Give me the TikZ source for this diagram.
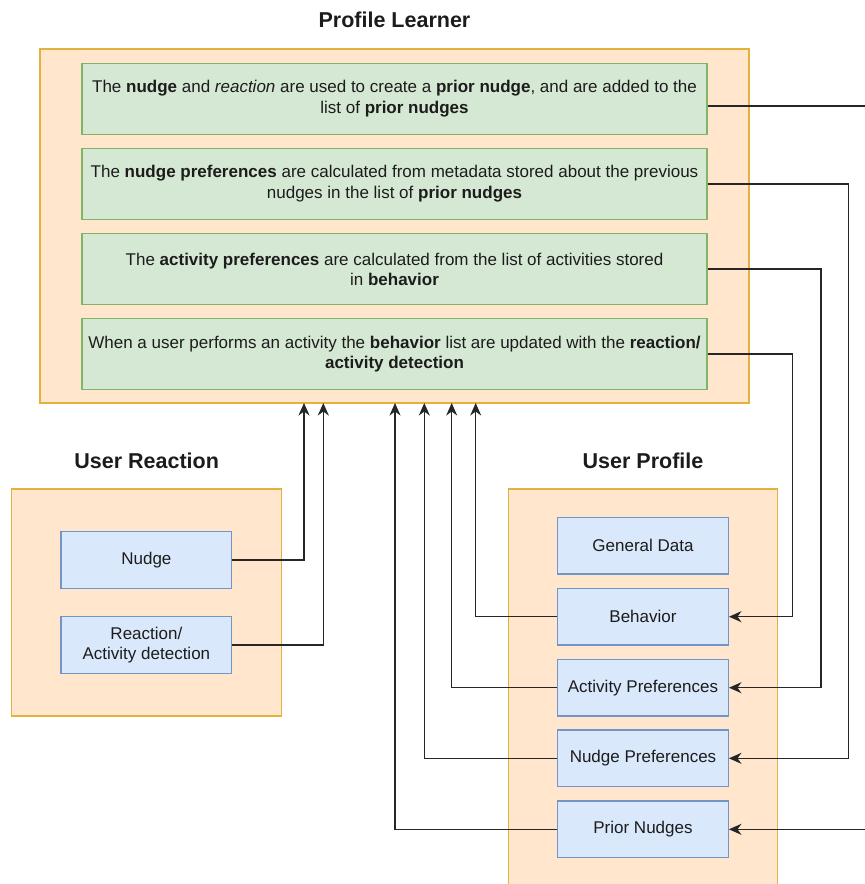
\documentclass[tikz,border=0pt]{standalone}
\usepackage{fontspec}
\setmainfont{Liberation Sans}
\usetikzlibrary{arrows.meta,calc}

\definecolor{grpfill}{HTML}{FFE6CC}
\definecolor{grpline}{HTML}{E3B23C}
\definecolor{stepfill}{HTML}{D5E8D4}
\definecolor{stepline}{HTML}{82B366}
\definecolor{itemfill}{HTML}{DAE8FC}
\definecolor{itemline}{HTML}{7394C6}
\definecolor{txt}{HTML}{1C1C1C}
\definecolor{wire}{HTML}{262626}

\tikzset{
  group/.style={draw=grpline, fill=grpfill, line width=1.5pt},
  grouptitle/.style={font=\fontsize{21.5}{25}\selectfont\bfseries, text=txt},
  stepbox/.style={draw=stepline, fill=stepfill, line width=1.4pt,
    minimum width=625pt, minimum height=71pt, align=center, inner sep=0pt,
    font=\fontsize{17}{20.5}\selectfont, text=txt},
  itembox/.style={draw=itemline, fill=itemfill, line width=1.4pt,
    minimum width=170.5pt, minimum height=56.5pt, align=center, inner sep=0pt,
    font=\fontsize{17}{20}\selectfont, text=txt},
  link/.style={draw=wire, line width=1.5pt},
  arr/.style={link, -{Stealth[length=12.5pt,width=11pt,inset=4pt]}},
}

\begin{document}
\begin{tikzpicture}[x=1pt,y=-1pt]
  \useasboundingbox (0,0) rectangle (865,884);

  % Profile Learner group
  \draw[group] (40,49) rectangle (749,403);
  \node[grouptitle] (pltitle) at (394.5,20) {Profile Learner};

  \node[stepbox] (g1) at (394.5,98.8) {The \textbf{nudge} and \textit{reaction} are used to create a \textbf{prior nudge}, and are added to the\\list of \textbf{prior nudges}};
  \node[stepbox] (g2) at (394.5,183.8) {The \textbf{nudge preferences} are calculated from metadata stored about the previous\\nudges in the list of \textbf{prior nudges}};
  \node[stepbox] (g3) at (394.5,269.2) {The \textbf{activity preferences} are calculated from the list of activities stored\\in \textbf{behavior}};
  \node[stepbox] (g4) at (394.5,354.2) {When a user performs an activity the \textbf{behavior} list are updated with the \textbf{reaction/}\\\textbf{activity detection}};

  % User Reaction group
  \draw[group] (11.7,489) rectangle (281.7,716);
  \node[grouptitle] (urtitle) at (146.7,461) {User Reaction};
  \node[itembox] (nudge) at (146.4,560) {Nudge};
  \node[itembox] (react) at (146.4,645) {Reaction/\\Activity detection};

  % User Profile group (runs past the lower edge)
  \draw[group] (508.3,489) rectangle (777.7,905);
  \node[grouptitle] (uptitle) at (643,461) {User Profile};
  \node[itembox] (gen) at (643,545.7) {General Data};
  \node[itembox] (beh) at (643,616.7) {Behavior};
  \node[itembox] (act) at (643,687.7) {Activity Preferences};
  \node[itembox] (npref) at (643,758.3) {Nudge Preferences};
  \node[itembox] (prior) at (643,829.3) {Prior Nudges};

  % entry points on the lower edge of Profile Learner
  \coordinate (in1) at (304,403);
  \coordinate (in2) at (323.3,403);
  \coordinate (in3) at (395,403);
  \coordinate (in4) at (424.3,403);
  \coordinate (in5) at (451.7,403);
  \coordinate (in6) at (475.7,403);

  % inputs into the learner
  \draw[arr] (nudge.east) -| (in1);
  \draw[arr] (react.east) -| (in2);
  \draw[arr] (prior.west) -| (in3);
  \draw[arr] (npref.west) -| (in4);
  \draw[arr] (act.west) -| (in5);
  \draw[arr] (beh.west) -| (in6);

  % outputs into the profile
  \draw[arr] ([yshift=-7pt]g1.east) -- ++(170,0) |- (prior.east);
  \draw[arr] (g2.east) -- ++(141,0) |- (npref.east);
  \draw[arr] (g3.east) -- ++(113.3,0) |- (act.east);
  \draw[arr] (g4.east) -- ++(85,0) |- (beh.east);
\end{tikzpicture}
\end{document}
